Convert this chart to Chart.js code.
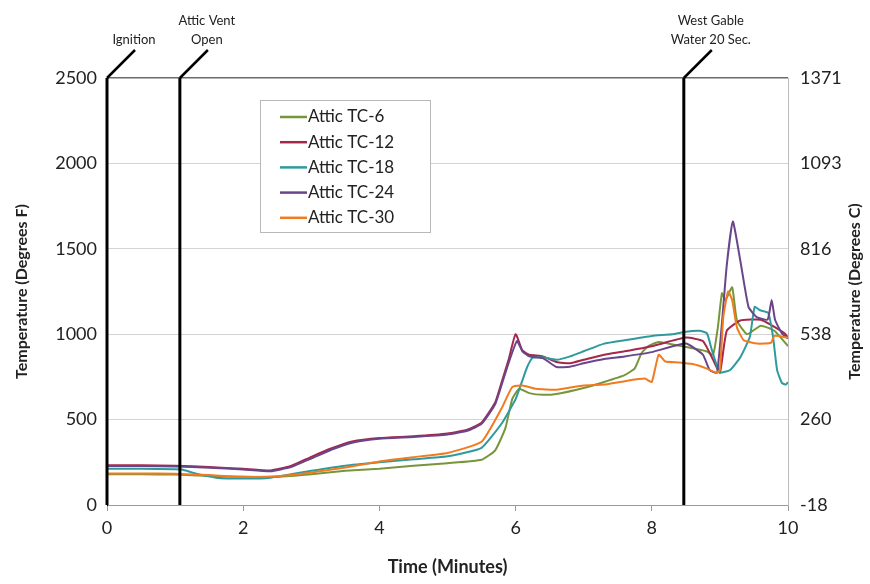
<!DOCTYPE html>
<html>
<head>
<meta charset="utf-8">
<script src="https://cdn.jsdelivr.net/npm/chart.js@4"></script>
<style>
  body { margin: 0; background: #fff; }
  #wrap { width: 870px; height: 584px; position: relative; }
</style>
</head>
<body>
<div id="wrap"><canvas id="attic"></canvas></div>
<script>
// time in minutes, temperature in degrees F
const tc6Time = [0,0.5,1.0,1.5,2.0,2.5,3.0,3.5,4.0,4.5,5.0,5.5,5.7,5.85,5.95,6.05,6.2,6.4,6.6,7.0,7.3,7.6,7.75,7.85,7.95,8.1,8.5,8.8,8.9,8.97,9.03,9.08,9.18,9.25,9.4,9.6,9.8,10];
const tc6Temp = [180,180,178,170,165,165,180,200,212,230,245,265,320,450,620,680,655,645,650,685,720,760,800,890,930,955,925,900,880,1040,1240,1200,1275,1080,1000,1050,1020,930];

const tc12Time = [0,0.5,1.0,1.5,2.0,2.4,2.7,3.0,3.3,3.6,4.0,4.5,5.0,5.3,5.5,5.7,5.8,5.9,6.0,6.1,6.2,6.4,6.6,6.8,7.0,7.3,7.6,8.0,8.5,8.75,8.9,9.0,9.1,9.3,9.6,9.75,9.95,10];
const tc12Temp = [232,232,230,222,212,202,228,282,332,372,392,402,418,442,482,600,725,855,1000,905,880,870,837,830,850,880,900,930,980,960,850,775,1020,1080,1085,1055,1005,980];

const tc18Time = [0,0.5,1.0,1.1,1.3,1.6,2.0,2.4,3.0,3.5,4.0,4.5,5.0,5.5,5.8,6.0,6.1,6.17,6.25,6.4,6.6,6.8,7.0,7.3,7.6,8.0,8.3,8.5,8.7,8.81,8.88,8.96,9.0,9.15,9.3,9.44,9.51,9.59,9.71,9.78,9.84,9.91,9.97,10];
const tc18Temp = [212,212,210,208,185,160,155,160,200,230,250,268,285,335,480,620,730,808,862,865,850,870,900,945,965,990,1000,1015,1020,1005,910,810,775,790,865,985,1160,1140,1125,985,790,715,705,720];

const tc24Time = [0,0.5,1.0,1.5,2.0,2.4,2.7,3.0,3.3,3.6,4.0,4.5,5.0,5.3,5.5,5.7,5.8,5.9,6.02,6.1,6.2,6.4,6.6,6.8,7.0,7.3,7.6,8.0,8.5,8.75,8.85,8.96,9.1,9.19,9.3,9.42,9.54,9.7,9.76,9.81,9.91,10];
const tc24Temp = [228,228,226,218,208,198,222,272,325,365,388,398,412,436,475,590,710,835,960,900,870,860,808,810,830,855,870,895,945,880,790,775,1400,1660,1430,1160,1100,1085,1200,1085,1005,975];

const tc30Time = [0,0.5,1.0,1.5,2.0,2.5,3.0,3.5,4.0,4.5,5.0,5.5,5.8,5.95,6.1,6.3,6.6,7.0,7.3,7.6,7.9,8.0,8.1,8.2,8.4,8.6,8.8,8.95,9.0,9.05,9.12,9.18,9.25,9.35,9.55,9.75,9.8,10];
const tc30Temp = [185,185,183,175,165,168,190,220,255,280,305,370,570,690,700,680,675,700,705,725,740,720,880,840,835,825,800,775,790,1100,1250,1200,1040,965,945,950,990,980];

const seriesNames = ["Attic TC-6", "Attic TC-12", "Attic TC-18", "Attic TC-24", "Attic TC-30"];
const seriesColors = ["#77963a", "#a3284a", "#2f9a9e", "#6a4589", "#f27b1f"];

const fTicks = [0, 500, 1000, 1500, 2000, 2500];
const eventTimes = [0, 1.07, 8.47];
const eventLabels = [["Ignition"], ["Attic Vent", "Open"], ["West Gable", "Water 20 Sec."]];
const rightTitle = "Temperature (Degrees C)";

function toC(f) { return (f - 32) * 5 / 9; }
function pairs(t, v) { return t.map((x, i) => ({ x: x, y: v[i] })); }

const allTimes = [tc6Time, tc12Time, tc18Time, tc24Time, tc30Time];
const allTemps = [tc6Temp, tc12Temp, tc18Temp, tc24Temp, tc30Temp];

Chart.defaults.font.family = "Lato, 'Open Sans', sans-serif";
Chart.defaults.color = "#222";

// event marker lines with leader and label
const eventLines = {
  id: "eventLines",
  afterDatasetsDraw(chart) {
    const c = chart.ctx, x = chart.scales.x, a = chart.chartArea;
    c.save();
    c.strokeStyle = "#000";
    c.fillStyle = "#222";
    c.font = "13px Lato, sans-serif";
    c.textAlign = "center";
    c.textBaseline = "middle";
    eventTimes.forEach((t, i) => {
      const px = x.getPixelForValue(t);
      c.lineWidth = 3;
      c.beginPath();
      c.moveTo(px, a.bottom);
      c.lineTo(px, a.top);
      c.stroke();
      c.lineWidth = 2.5;
      c.beginPath();
      c.moveTo(px, a.top);
      c.lineTo(px + 28, a.top - 28);
      c.stroke();
      const lines = eventLabels[i];
      lines.forEach((s, j) => {
        c.fillText(s, px + 27, a.top - 38 - (lines.length - 1 - j) * 19);
      });
    });
    c.restore();
  }
};

// legend box inside the plot, plus right axis title reading upward
const boxLegend = {
  id: "boxLegend",
  afterDraw(chart) {
    const c = chart.ctx, a = chart.chartArea;
    c.save();
    c.fillStyle = "#fff";
    c.strokeStyle = "#b8b8b8";
    c.lineWidth = 1;
    c.fillRect(260.5, 100.5, 170, 132);
    c.strokeRect(260.5, 100.5, 170, 132);
    c.font = "17px Lato, sans-serif";
    c.textBaseline = "middle";
    c.textAlign = "left";
    chart.data.datasets.forEach((ds, i) => {
      const y = 117 + i * 25.2;
      c.strokeStyle = ds.borderColor;
      c.lineWidth = 2.5;
      c.beginPath();
      c.moveTo(280, y);
      c.lineTo(307, y);
      c.stroke();
      c.fillStyle = "#222";
      c.fillText(ds.label, 308, y);
    });
    c.translate(855, (a.top + a.bottom) / 2);
    c.rotate(-Math.PI / 2);
    c.font = "bold 16px Lato, sans-serif";
    c.textAlign = "center";
    c.fillStyle = "#222";
    c.fillText(rightTitle, 0, 0);
    c.restore();
  }
};

new Chart(document.getElementById("attic"), {
  type: "line",
  data: {
    datasets: seriesNames.map((name, i) => ({
      label: name,
      data: pairs(allTimes[i], allTemps[i]),
      borderColor: seriesColors[i],
      backgroundColor: seriesColors[i],
      borderWidth: 2,
      pointRadius: 0,
      tension: 0.15,
      order: 5 - i,
    })),
  },
  options: {
    responsive: true,
    maintainAspectRatio: false,
    animation: false,
    layout: { padding: { top: 78, left: 0, right: 0, bottom: 0 } },
    plugins: {
      legend: { display: false },
      tooltip: { enabled: false },
    },
    scales: {
      x: {
        type: "linear",
        min: 0,
        max: 10,
        ticks: { stepSize: 2, font: { size: 18 }, padding: 6, maxRotation: 0 },
        grid: { drawOnChartArea: false, drawTicks: true, tickLength: 6, color: "#9a9a9a" },
        border: { color: "#9a9a9a" },
        title: { display: true, text: "Time (Minutes)", font: { size: 18, weight: "bold" }, padding: { top: 4, bottom: 6 } },
        afterFit(s) { s.height = 79; },
      },
      y: {
        position: "left",
        min: 0,
        max: 2500,
        afterBuildTicks(s) { s.ticks = fTicks.map(v => ({ value: v })); },
        ticks: { font: { size: 18 }, padding: 10, callback: (v) => String(v) },
        grid: {
          drawTicks: false,
          color: (ctx) => (ctx.tick && ctx.tick.value === 2500 ? "#6a6a6a" : "#d4d4d4"),
          lineWidth: (ctx) => (ctx.tick && ctx.tick.value === 2500 ? 1.5 : 1),
        },
        border: { color: "#000" },
        title: { display: true, text: "Temperature (Degrees F)", font: { size: 16, weight: "bold" }, padding: { top: 12, bottom: 0 } },
        afterFit(s) { s.width = 107; },
      },
      yC: {
        position: "right",
        min: toC(0),
        max: toC(2500),
        afterBuildTicks(s) { s.ticks = fTicks.map(v => ({ value: toC(v) })); },
        ticks: { font: { size: 18 }, padding: 12, callback: (v) => Math.round(v) },
        grid: { drawOnChartArea: false, drawTicks: false },
        border: { color: "#bdbdbd" },
        afterFit(s) { s.width = 82; },
      },
    },
  },
  plugins: [eventLines, boxLegend],
});
</script>
</body>
</html>
